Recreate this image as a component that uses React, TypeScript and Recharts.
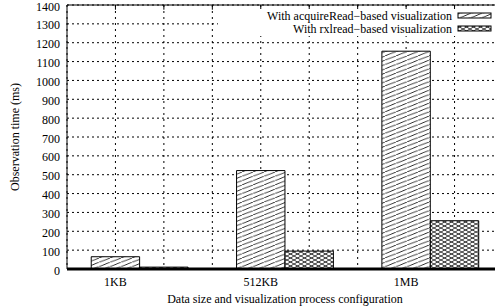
import { BarChart, Bar, XAxis, YAxis, CartesianGrid, ReferenceLine, Legend, Cell } from "recharts"

const categories = ["1KB", "512KB", "1MB"]
const acquireReadMs = [65, 522, 1155]
const rxlreadMs = [10, 95, 256]
const seriesNames = ["With acquireRead\u2212based visualization", "With rxlread\u2212based visualization"]
const yTicks = [0, 100, 200, 300, 400, 500, 600, 700, 800, 900, 1000, 1100, 1200, 1300, 1400]
const xTicks = [1, 2, 3, 4, 5, 6, 7, 8]

const fills = ["url(#hatchA)", "url(#hatchB)"]
const font = "'Liberation Serif', 'Times New Roman', serif"

// each group takes three slots: acquireRead bar, rxlread bar, gap
const rows = categories.flatMap((cat, i) => [
  { pos: 3 * i + 1, value: acquireReadMs[i], series: 0, cat },
  { pos: 3 * i + 2, value: rxlreadMs[i], series: 1, cat },
])

const tickLabel = (v: number) => {
  const i = (v - 1) / 3
  return Number.isInteger(i) && categories[i] ? categories[i] : ""
}

function YTick(props: any) {
  const { x, y, payload } = props
  return (
    <text x={x} y={y + 1.3} dy="0.35em" textAnchor="end" fontSize={12} fontFamily={font} fill="#000">
      {payload.value}
    </text>
  )
}

function Patterns() {
  return (
    <defs>
      <pattern id="hatchA" patternUnits="userSpaceOnUse" width="11" height="4.3">
        <rect width="11" height="4.3" fill="#fff" />
        <line x1="0" y1="4.3" x2="11" y2="0" stroke="#000" strokeWidth="0.8" />
      </pattern>
      <pattern id="hatchB" patternUnits="userSpaceOnUse" width="7" height="4">
        <rect width="7" height="4" fill="#fff" />
        <line x1="0" y1="4" x2="7" y2="0" stroke="#000" strokeWidth="0.8" />
        <line x1="0" y1="0" x2="7" y2="4" stroke="#000" strokeWidth="0.8" />
      </pattern>
    </defs>
  )
}

function LegendBox() {
  return (
    <svg width={290} height={27} style={{ display: "block", background: "#fff" }}>
      {seriesNames.map((name, i) => (
        <g key={name}>
          <text x={234} y={6.5 + i * 13} dy="0.35em" textAnchor="end" fontSize={12} fontFamily={font} fill="#000">
            {name}
          </text>
          <rect x={240} y={4 + i * 13} width={33} height={5} fill={fills[i]} stroke="#000" strokeWidth={1} />
        </g>
      ))}
    </svg>
  )
}

export default function App() {
  return (
    <div style={{ position: "absolute", left: 0, top: 0, width: 495, height: 308, overflow: "hidden", background: "#fff", fontFamily: font }}>
      <BarChart width={503} height={308} data={rows} margin={{ top: 5, right: 0, left: 0, bottom: 0 }}>
        <Patterns />
        <CartesianGrid horizontal vertical={false} stroke="#000" strokeDasharray="2 3" strokeWidth={1} />
        <CartesianGrid horizontal={false} vertical stroke="#000" strokeDasharray="2 4" strokeWidth={1} />
        <XAxis
          dataKey="pos"
          type="number"
          domain={[0, 9]}
          ticks={xTicks}
          tickFormatter={tickLabel}
          interval={0}
          height={39}
          tickLine={false}
          axisLine={{ stroke: "#000", strokeWidth: 3 }}
          tick={{ fill: "#000", fontSize: 12, fontFamily: font }}
          label={{ value: "Data size and visualization process configuration", position: "insideBottom", offset: 5, fill: "#000", fontSize: 12, fontFamily: font }}
        />
        <YAxis
          domain={[0, 1400]}
          ticks={yTicks}
          interval={0}
          width={67}
          tickLine={false}
          tickSize={6}
          tickMargin={1}
          axisLine={{ stroke: "#000", strokeWidth: 1 }}
          tick={<YTick />}
          label={{
            content: () => (
              <text x={15} y={137} transform="rotate(-90 15 137)" textAnchor="middle" dominantBaseline="central" fontSize={12} fontFamily={font} fill="#000">
                Observation time (ms)
              </text>
            ),
          }}
        />
        <Legend
          layout="horizontal"
          verticalAlign="middle"
          align="center"
          content={() => <LegendBox />}
          wrapperStyle={{ position: "absolute", top: 9, left: 218, width: 290, height: 27 }}
        />
        <Bar dataKey="value" barSize={48.4} stroke="#000" strokeWidth={1} isAnimationActive={false}>
          {rows.map((r) => (
            <Cell key={r.pos} fill={fills[r.series]} />
          ))}
        </Bar>
        <ReferenceLine y={1400} stroke="#000" strokeWidth={1} />
        {xTicks.map((t) => (
          <ReferenceLine key={t} segment={[{ x: t, y: 1400 }, { x: t, y: 1375 }]} stroke="#000" strokeWidth={1} />
        ))}
      </BarChart>
    </div>
  )
}
